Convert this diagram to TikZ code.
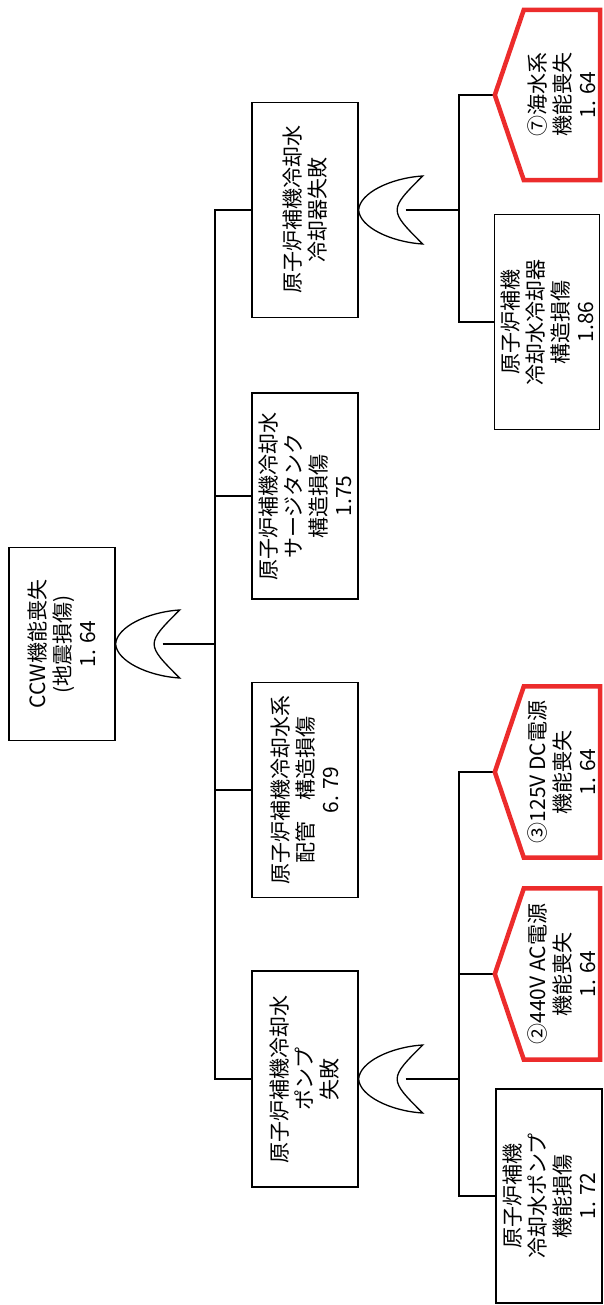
\documentclass[tikz,border=0pt]{standalone}
\usepackage{fontspec}
\setmainfont{Noto Sans CJK JP}
\usepackage{tikz}
\usetikzlibrary{calc}
\definecolor{ftred}{RGB}{236,44,44}
\tikzset{
  ftbox/.style={draw=black, line width=1.3pt, fill=white, rotate=90, align=center, inner sep=2pt, minimum height=106pt},
  ftxfer/.style={rotate=90, align=center, inner sep=2pt, minimum height=76pt},
  ftxline/.style={draw=ftred, line width=4.5pt, line join=miter},
  ftline/.style={line width=1.3pt},
  orgate/.pic={
    \draw[ftline, fill=white] (64,-34) .. controls (32,-32) and (1,-17) .. (0,0)
      .. controls (1,17) and (32,32) .. (64,34)
      .. controls (30,0) .. cycle;
    \coordinate (-in) at (0,0);
    \coordinate (-out) at (47,0);
  }
}
\begin{document}
\begin{tikzpicture}[x=1pt, y=-1pt, every node/.style={font=\fontsize{21}{25}\selectfont}]
  \useasboundingbox (0,0) rectangle (603,1305);

  \node[ftbox, minimum width=193pt] (ccw) at (62,644) {CCW機能喪失\\(地震損傷)\\1. 64};
  \pic (gccw) at (ccw.south) {orgate};
  \coordinate (bus1) at (215,644);
  \draw[ftline] (gccw-out) -- (bus1);

  \node[ftbox, minimum width=215pt] (hx) at (305,210) {原子炉補機冷却水\\冷却器失敗};
  \node[ftbox, minimum width=206pt] (tank) at (305,496) {原子炉補機冷却水\\サージタンク\\構造損傷\\1.75};
  \node[ftbox, minimum width=215pt] (pipe) at (305,790) {原子炉補機冷却水系\\配管　構造損傷\\6. 79};
  \node[ftbox, minimum width=216pt] (pump) at (305,1079) {原子炉補機冷却水\\ポンプ\\失敗};
  \draw[ftline] (bus1) |- (hx.north);
  \draw[ftline] (bus1) |- (tank.north);
  \draw[ftline] (bus1) |- (pipe.north);
  \draw[ftline] (bus1) |- (pump.north);

  \pic (ghx) at (hx.south) {orgate};
  \coordinate (bus2) at (459,210);
  \draw[ftline] (ghx-out) -- (bus2);
  \node[ftxfer, minimum width=170pt] (sw) at (562,95) {⑦海水系\\機能喪失\\1. 64};
  \coordinate (swtip) at ($(sw.north)+(-29,0)$);
  \node[ftbox, minimum width=215pt, minimum height=105pt] (hxs) at (547,322) {原子炉補機\\冷却水冷却器\\構造損傷\\1.86};
  \draw[ftline] (bus2) |- (swtip);
  \draw[ftline] (bus2) |- (hxs.north);
  \draw[ftxline] (sw.north east) -- (sw.south east) -- (sw.south west) -- (sw.north west) -- (swtip) -- cycle;

  \pic (gpump) at (pump.south) {orgate};
  \coordinate (bus3) at (459,1079);
  \draw[ftline] (gpump-out) -- (bus3);
  \node[ftxfer, minimum width=171pt] (dc) at (562,772) {③125V DC電源\\機能喪失\\1. 64};
  \coordinate (dctip) at ($(dc.north)+(-29,0)$);
  \node[ftxfer, minimum width=171pt] (ac) at (562,974) {②440V AC電源\\機能喪失\\1. 64};
  \coordinate (actip) at ($(ac.north)+(-29,0)$);
  \node[ftbox, minimum width=214pt] (pumps) at (549,1196) {原子炉補機\\冷却水ポンプ\\機能損傷\\1. 72};
  \draw[ftline] (bus3) |- (dctip);
  \draw[ftline] (bus3) |- (actip);
  \draw[ftline] (bus3) |- (pumps.north);
  \draw[ftxline] (dc.north east) -- (dc.south east) -- (dc.south west) -- (dc.north west) -- (dctip) -- cycle;
  \draw[ftxline] (ac.north east) -- (ac.south east) -- (ac.south west) -- (ac.north west) -- (actip) -- cycle;
\end{tikzpicture}
\end{document}
